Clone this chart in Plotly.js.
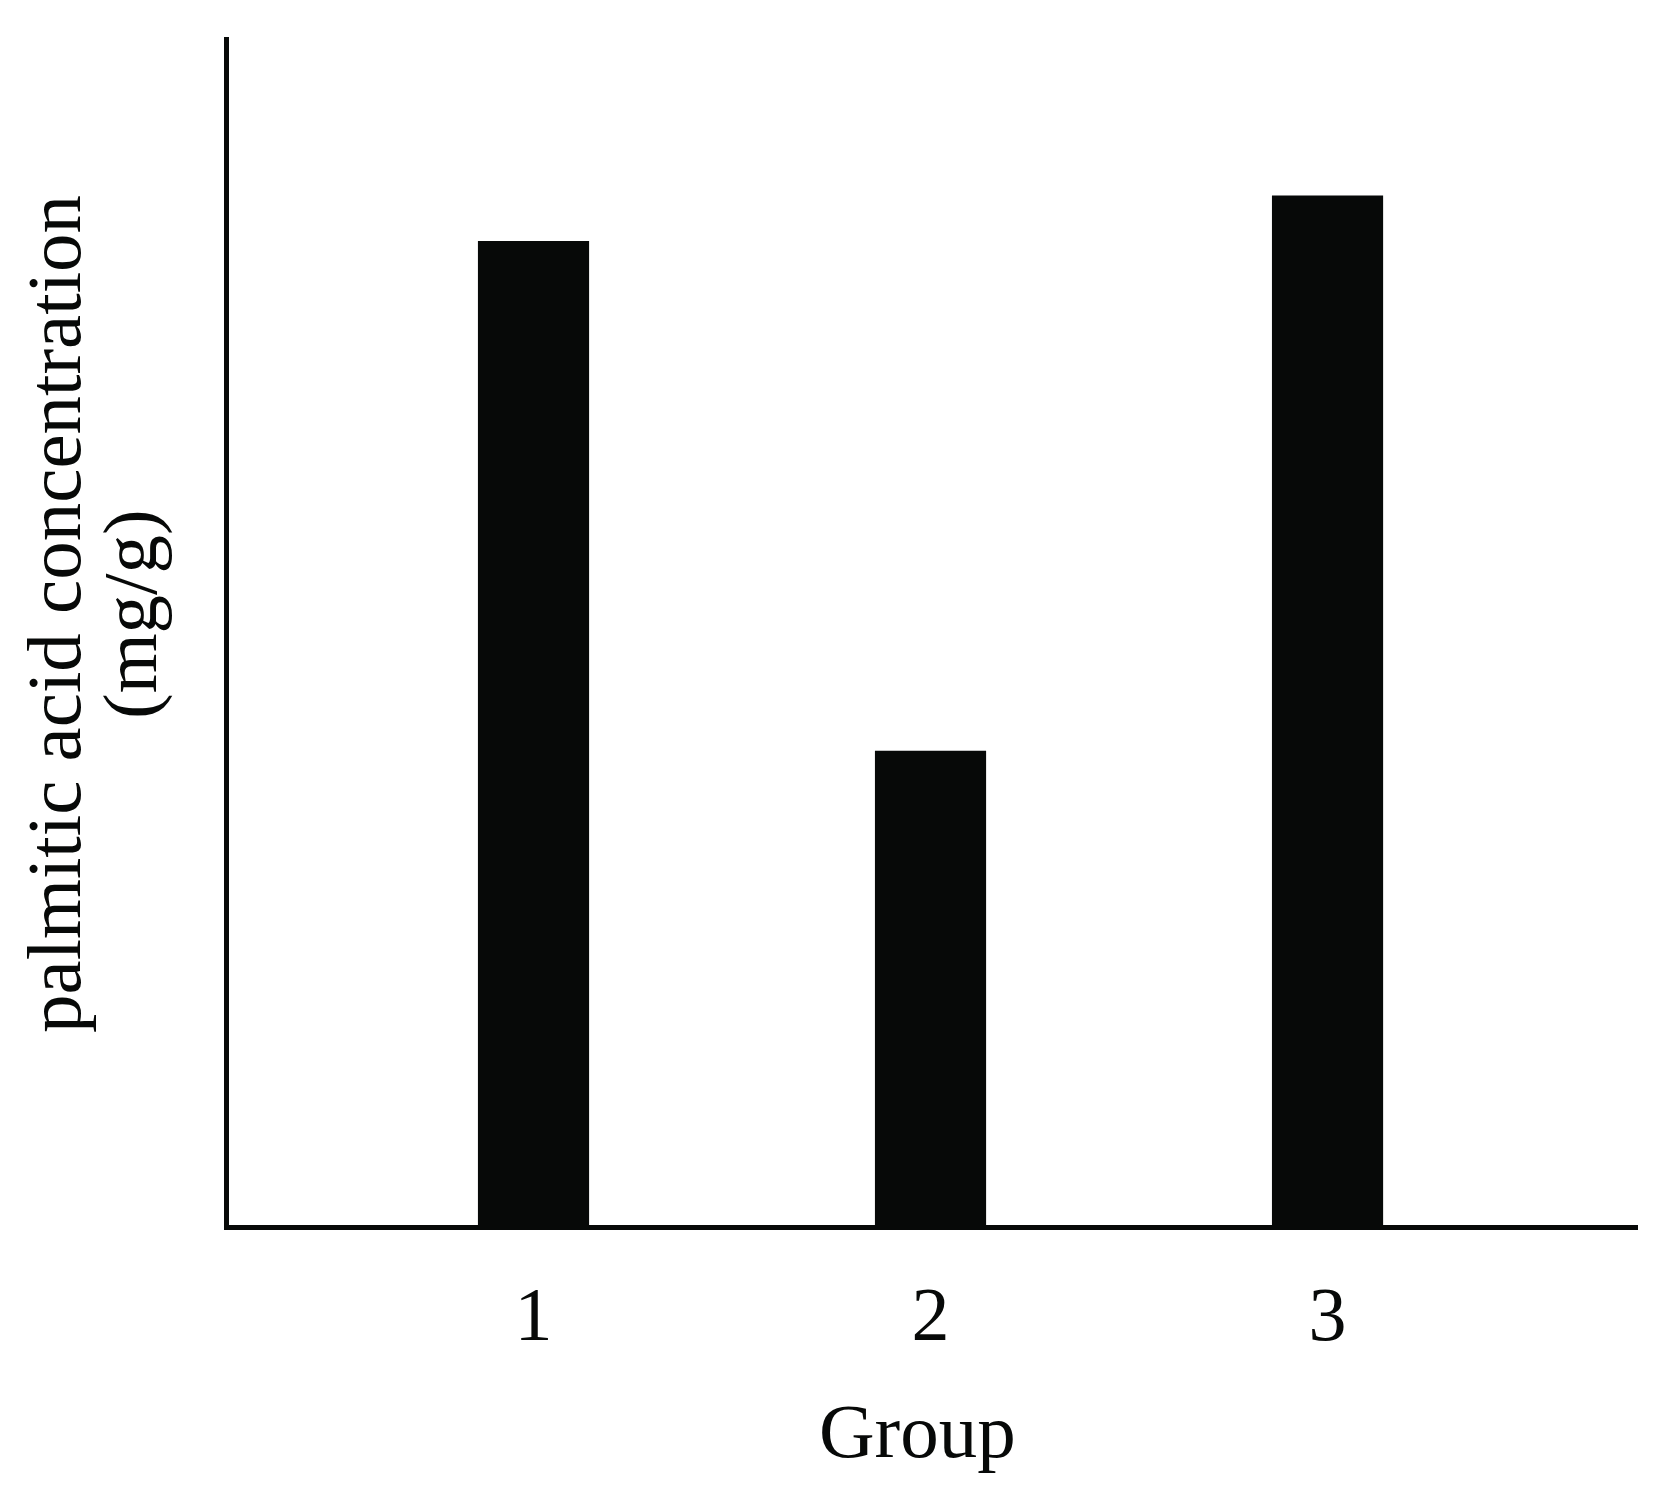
<!DOCTYPE html>
<html>
<head>
<meta charset="utf-8">
<script src="https://cdn.plot.ly/plotly-3.0.1.min.js"></script>
<style>
  html, body { margin: 0; padding: 0; background: #ffffff; }
  #barPlot_group { width: 1674px; height: 1494px; }
</style>
</head>
<body>
<div id="barPlot_group"></div>
<script>
// data (no y tick labels, so values are relative)
let groups = [1, 2, 3];
let groupLabels = ["1", "2", "3"];
let palmiticValues = [9.94, 4.79, 10.40];

let yTitleLine1 = "palmitic acid concentration";
let yTitleLine2 = "(mg/g)";
let xTitle = "Group";

let serif = '"Liberation Serif", "Times New Roman", Times, serif';
let ink = "#070908";

var cb_barPlot_group = function () {
  let trace1 = {
    x: groups,
    y: palmiticValues,
    type: "bar",
    width: 0.28,
    marker: { color: ink, line: { width: 0 } },
    hoverinfo: "x+y",
  };

  let data = [trace1];

  let layout = {
    width: 1674,
    height: 1494,
    margin: { l: 229, r: 36, t: 37, b: 269, pad: 0 },
    paper_bgcolor: "#ffffff",
    plot_bgcolor: "#ffffff",
    showlegend: false,
    font: { family: serif, size: 77, color: ink },

    xaxis: {
      range: [0.233, 3.782],
      tickvals: groups,
      ticktext: groupLabels,
      ticks: "",
      ticklabelstandoff: 19,
      showline: true,
      linecolor: ink,
      linewidth: 5,
      showgrid: false,
      zeroline: false,
      tickfont: { family: serif, size: 76, color: ink },
    },
    yaxis: {
      range: [0, 12],
      showticklabels: false,
      ticks: "",
      showline: true,
      linecolor: ink,
      linewidth: 5,
      showgrid: false,
      zeroline: false,
    },

    // titles as annotations so the two y lines sit as tight as in the figure
    annotations: [
      {
        text: yTitleLine1,
        xref: "paper", yref: "paper",
        x: -0.1242, y: 0.5143,
        xanchor: "center", yanchor: "middle",
        textangle: -90,
        showarrow: false,
        font: { family: serif, size: 77, color: ink },
      },
      {
        text: yTitleLine2,
        xref: "paper", yref: "paper",
        x: -0.0703, y: 0.5143,
        xanchor: "center", yanchor: "middle",
        textangle: -90,
        showarrow: false,
        font: { family: serif, size: 77, color: ink },
      },
      {
        text: xTitle,
        xref: "paper", yref: "paper",
        x: 0.4883, y: -0.1734,
        xanchor: "center", yanchor: "middle",
        showarrow: false,
        font: { family: serif, size: 77, color: ink },
      },
    ],
  };

  let config = {
    displayModeBar: false,
    responsive: false,
  };

  Plotly.newPlot("barPlot_group", data, layout, config);
};

cb_barPlot_group();
</script>
</body>
</html>
